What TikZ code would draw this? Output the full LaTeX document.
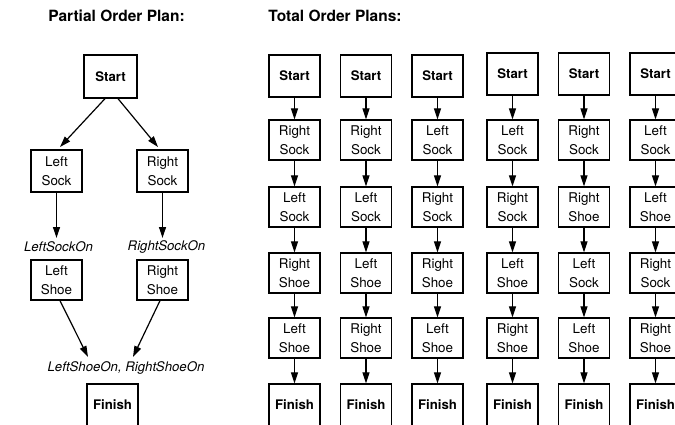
\documentclass[tikz,border=0pt]{standalone}
\usepackage{fontspec}
\setmainfont{TeX Gyre Heros}
\usetikzlibrary{arrows.meta}
\begin{document}
\begin{tikzpicture}[x=1pt,y=-1pt,
  box/.style={draw, line width=1.3pt, minimum width=51pt, minimum height=40pt, inner sep=0pt, align=center, font=\fontsize{13.4}{18.5}\selectfont},
  term/.style={box, minimum height=42pt, font=\bfseries\fontsize{13.2}{16}\selectfont},
  title/.style={font=\bfseries\fontsize{15.5}{18}\selectfont, inner sep=0pt},
  cond/.style={font=\itshape\fontsize{13.2}{16}\selectfont, inner sep=0pt},
  arr/.style={-{Triangle[length=11pt,width=7pt]}, line width=1.2pt}]
\useasboundingbox (0,0) rectangle (675,424);
\clip (0,0) rectangle (675,424);
% titles
\node[title] (t1) at (116.5,16) {Partial Order Plan:};
\node[title] (t2) at (335,16) {Total Order Plans:};
% partial order plan
\node[term, minimum width=53pt, minimum height=43pt] (pstart) at (110.5,76.5) {Start};
\node[box, minimum height=42pt] (plsock) at (56.5,171) {Left\\Sock};
\node[box, minimum height=42pt] (prsock) at (162.5,171) {Right\\Sock};
\node[cond] (lson) at (58.5,247) {LeftSockOn};
\node[cond] (rson) at (166.5,247) {RightSockOn};
\node[box] (plshoe) at (56.5,280) {Left\\Shoe};
\node[box] (prshoe) at (162.5,280) {Right\\Shoe};
\node[cond] (shon) at (126,368) {LeftShoeOn, RightShoeOn};
\node[term] (pfinish) at (112.5,405) {Finish};
\coordinate (eL) at (60,147);
\coordinate (eR) at (158,147);
\coordinate (gL) at (88,357);
\coordinate (gR) at (133,357);
\draw[arr] ([xshift=-5.5pt]pstart.south) -- (eL);
\draw[arr] ([xshift=7.5pt]pstart.south) -- (eR);
\draw[arr] (plsock.south) -- (plsock.south |- 0,238);
\draw[arr] (prsock.south) -- (prsock.south |- 0,238);
\draw[arr] ([xshift=3.5pt]plshoe.south) -- (gL);
\draw[arr] ([xshift=-2.5pt]prshoe.south) -- (gR);
% total order plans
\def\RSo{Right\\Sock}
\def\LSo{Left\\Sock}
\def\RSh{Right\\Shoe}
\def\LSh{Left\\Shoe}
\foreach \i/\x/\sy/\A/\B/\C/\D in {
  1/294.5/76/\RSo/\LSo/\RSh/\LSh,
  2/366/76/\RSo/\LSo/\LSh/\RSh,
  3/437.5/76/\LSo/\RSo/\RSh/\LSh,
  4/512.5/74/\LSo/\RSo/\LSh/\RSh,
  5/584/74/\RSo/\RSh/\LSo/\LSh,
  6/655.5/74/\LSo/\LSh/\RSo/\RSh}{
  \node[term] (s\i) at (\x,\sy) {Start};
  \node[box] (a\i) at (\x,140) {\A};
  \node[box] (b\i) at (\x,207) {\B};
  \node[box] (c\i) at (\x,273) {\C};
  \node[box] (d\i) at (\x,338) {\D};
  \node[term] (f\i) at (\x,405) {Finish};
  \draw[arr] (s\i) -- (a\i);
  \draw[arr] (a\i) -- (b\i);
  \draw[arr] (b\i) -- (c\i);
  \draw[arr] (c\i) -- (d\i);
  \draw[arr] (d\i) -- (f\i);
}
\end{tikzpicture}
\end{document}
